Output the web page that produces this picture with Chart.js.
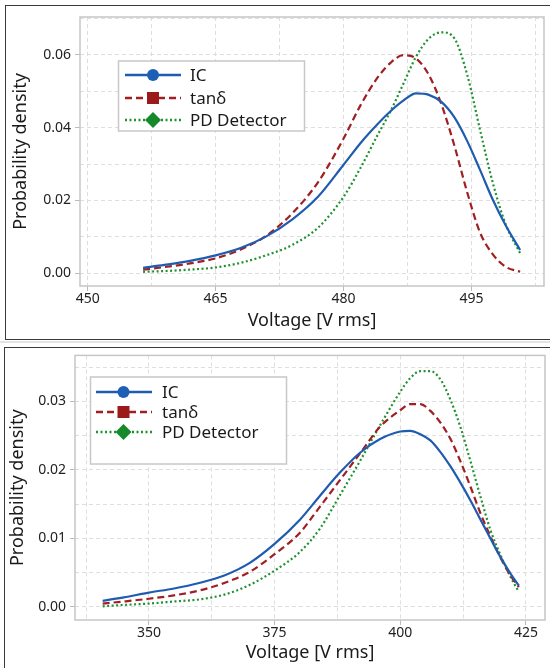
<!DOCTYPE html>
<html>
<head>
<meta charset="utf-8">
<script src="https://cdn.jsdelivr.net/npm/chart.js@4.4.1/dist/chart.umd.min.js"></script>
<style>
  html, body { margin: 0; padding: 0; background: #fff; }
  body { width: 550px; height: 668px; position: relative; overflow: hidden; }
  .panel { position: absolute; border: 1.5px solid #3a3a3a; box-sizing: border-box; }
  #p1 { left: 5px; top: 5px; width: 560px; height: 335px; }
  #p2 { left: 4px; top: 347px; width: 560px; height: 340px; }
  .sep { position: absolute; left: 0; top: 341px; width: 550px; height: 2px; background: #e4e4e4; }
  canvas { position: absolute; }
  #c1 { left: 0; top: 0; }
  #c2 { left: 0; top: 343px; }
</style>
</head>
<body>
<div class="panel" id="p1"></div>
<div class="sep"></div>
<div class="panel" id="p2"></div>
<canvas id="c1" width="550" height="338"></canvas>
<canvas id="c2" width="550" height="325"></canvas>
<script>
const seriesNames = ['IC', 'tanδ', 'PD Detector'];

// top chart
const voltTop = [456.5, 459, 462, 465, 468, 471, 474, 477, 480, 482, 484, 485.5, 487, 488.5, 490, 491.5, 493, 494.5, 496, 497.5, 499, 500.7];
const icTop   = [0.0015, 0.0023, 0.0034, 0.0049, 0.0070, 0.0102, 0.0148, 0.0210, 0.0298, 0.0358, 0.0410, 0.0445, 0.0474, 0.0494, 0.0490, 0.0470, 0.0428, 0.0363, 0.0284, 0.0202, 0.0132, 0.0064];
const tanTop  = [0.0010, 0.0017, 0.0027, 0.0041, 0.0066, 0.0104, 0.0165, 0.0250, 0.0370, 0.0462, 0.0538, 0.0578, 0.0599, 0.0590, 0.0545, 0.0462, 0.0350, 0.0222, 0.0112, 0.0052, 0.0018, 0.0004];
const pdTop   = [0.0004, 0.0006, 0.0010, 0.0016, 0.0029, 0.0050, 0.0078, 0.0125, 0.0210, 0.0290, 0.0380, 0.0445, 0.0520, 0.0595, 0.0645, 0.0662, 0.0645, 0.0545, 0.0394, 0.0248, 0.0135, 0.0055];
const xTicksTop = [450, 465, 480, 495];
const yTicksTop = [0, 0.02, 0.04, 0.06];

// bottom chart
const voltBottom = [340.8, 345, 350, 355, 360, 365, 370, 375, 380, 384, 388, 392, 396, 400, 402, 404, 406, 408, 410, 412, 414, 416, 418, 420, 422, 423.6];
const icBottom   = [0.0009, 0.0014, 0.0021, 0.0027, 0.0035, 0.0046, 0.0064, 0.0092, 0.0127, 0.0162, 0.0196, 0.0225, 0.0245, 0.0256, 0.0257, 0.0252, 0.0243, 0.0226, 0.0205, 0.0181, 0.0155, 0.0127, 0.0099, 0.0072, 0.0048, 0.0031];
const tanBottom  = [0.0005, 0.0008, 0.0012, 0.0017, 0.0024, 0.0035, 0.0051, 0.0077, 0.0108, 0.0146, 0.0185, 0.0224, 0.0263, 0.0287, 0.0296, 0.0296, 0.0286, 0.0269, 0.0245, 0.0212, 0.0175, 0.0136, 0.0102, 0.0071, 0.0045, 0.0029];
const pdBottom   = [0.0001, 0.0003, 0.0005, 0.0008, 0.0011, 0.0018, 0.0032, 0.0053, 0.0080, 0.0114, 0.0163, 0.0213, 0.0265, 0.0314, 0.0334, 0.0344, 0.0344, 0.0332, 0.0302, 0.0262, 0.0212, 0.0160, 0.0111, 0.0075, 0.0043, 0.0022];
const xTicksBottom = [350, 375, 400, 425];
const yTicksBottom = [0, 0.01, 0.02, 0.03];

Chart.defaults.font.family = '"Noto Sans", "Open Sans", sans-serif';
Chart.defaults.color = '#222';

const framePlugin = {
  id: 'frame',
  beforeDatasetsDraw(chart) {
    const { ctx, chartArea: a } = chart;
    ctx.save();
    ctx.strokeStyle = '#c6c6c6';
    ctx.lineWidth = 1.5;
    ctx.strokeRect(a.left, a.top, a.right - a.left, a.bottom - a.top);
    ctx.restore();
  }
};

// legend drawn inside the plot, line + marker like the original
const boxLegend = {
  id: 'boxLegend',
  afterDraw(chart, args, o) {
    const ctx = chart.ctx;
    ctx.save();
    ctx.fillStyle = '#fff';
    ctx.fillRect(o.x, o.y, o.w, o.h);
    ctx.strokeStyle = '#c8c8c8';
    ctx.lineWidth = 1.5;
    ctx.strokeRect(o.x, o.y, o.w, o.h);
    chart.data.datasets.forEach((ds, i) => {
      const y = o.rows[i];
      ctx.strokeStyle = ds.borderColor;
      ctx.lineWidth = 2.5;
      ctx.setLineDash(ds.borderDash || []);
      ctx.beginPath();
      ctx.moveTo(o.lx0, y);
      ctx.lineTo(o.lx1, y);
      ctx.stroke();
      ctx.setLineDash([]);
      ctx.fillStyle = ds.markColor;
      const m = o.mx;
      ctx.beginPath();
      if (ds.mark === 'circle') {
        ctx.arc(m, y, 6, 0, Math.PI * 2);
      } else if (ds.mark === 'rect') {
        ctx.rect(m - 6, y - 6, 12, 12);
      } else {
        ctx.moveTo(m, y - 8); ctx.lineTo(m + 8, y); ctx.lineTo(m, y + 8); ctx.lineTo(m - 8, y);
        ctx.closePath();
      }
      ctx.fill();
      ctx.fillStyle = '#1a1a1a';
      ctx.font = '17px "Noto Sans", "Open Sans", sans-serif';
      ctx.textBaseline = 'middle';
      ctx.fillText(ds.label, o.tx, y + 1);
    });
    ctx.restore();
  }
};

function makeChart(id, volts, series, cfg) {
  const styles = [
    { borderColor: '#1f5cb0', borderDash: [], mark: 'circle', markColor: '#1d5fb5' },
    { borderColor: '#a01f22', borderDash: [7, 4], mark: 'rect', markColor: '#9b1a1a' },
    { borderColor: '#1f9130', borderDash: [2, 2.5], mark: 'diamond', markColor: '#168a2a' }
  ];
  const datasets = series.map((vals, i) => Object.assign({
    label: seriesNames[i],
    data: volts.map((v, j) => ({ x: v, y: vals[j] })),
    borderWidth: 2.2,
    pointRadius: 0,
    fill: false,
    cubicInterpolationMode: 'monotone'
  }, styles[i]));

  const gridDash = [4, 3];
  const near = (list, v) => list.some(t => Math.abs(t - v) < 1e-9);

  return new Chart(document.getElementById(id), {
    type: 'line',
    data: { datasets },
    plugins: [framePlugin, boxLegend],
    options: {
      responsive: false,
      animation: false,
      layout: { padding: cfg.padding },
      plugins: {
        legend: { display: false },
        tooltip: { enabled: false },
        boxLegend: cfg.legend
      },
      scales: {
        x: {
          type: 'linear',
          min: cfg.xMin, max: cfg.xMax,
          afterBuildTicks: (s) => { s.ticks = cfg.xGrid.map(v => ({ value: v })); },
          afterFit: (s) => { s.height = cfg.xHeight; },
          ticks: {
            autoSkip: false, maxRotation: 0, padding: 0,
            font: { size: 14 },
            callback: (v) => near(cfg.xTicks, v) ? String(v) : ''
          },
          grid: {
            color: '#dedede', lineWidth: 1, tickLength: 5,
            tickColor: (c) => c.tick && near(cfg.xTicks, c.tick.value) ? '#bbb' : 'rgba(0,0,0,0)'
          },
          border: { display: false, dash: gridDash },
          title: {
            display: true, text: 'Voltage [V rms]',
            font: { size: 18 }, color: '#1a1a1a',
            padding: { top: 0, bottom: cfg.xTitlePad }
          }
        },
        y: {
          min: cfg.yMin, max: cfg.yMax,
          afterBuildTicks: (s) => { s.ticks = cfg.yGrid.map(v => ({ value: v })); },
          afterFit: (s) => { s.width = cfg.yWidth; },
          ticks: {
            autoSkip: false, padding: 4,
            font: { size: 14 },
            callback: (v) => near(cfg.yTicks, v) ? v.toFixed(2) : ''
          },
          grid: {
            color: '#dedede', lineWidth: 1, tickLength: 5,
            tickColor: (c) => c.tick && near(cfg.yTicks, c.tick.value) ? '#bbb' : 'rgba(0,0,0,0)'
          },
          border: { display: false, dash: gridDash },
          title: {
            display: true, text: 'Probability density',
            font: { size: 18 }, color: '#1a1a1a',
            padding: { top: cfg.yTitlePad, bottom: 0 }
          }
        }
      }
    }
  });
}

const range = (a, b, step) => {
  const out = [];
  for (let v = a; v <= b + 1e-9; v += step) out.push(+v.toFixed(4));
  return out;
};

makeChart('c1', voltTop, [icTop, tanTop, pdTop], {
  xMin: 449.1, xMax: 503.5, yMin: -0.0035, yMax: 0.0704,
  xGrid: range(450, 502.5, 7.5), yGrid: range(0, 0.07, 0.01),
  xTicks: xTicksTop, yTicks: yTicksTop,
  padding: { left: 0, right: 6, top: 17, bottom: 0 },
  xHeight: 52, yWidth: 80, xTitlePad: 6, yTitlePad: 10,
  legend: { x: 118.5, y: 61, w: 186, h: 70, rows: [75, 98, 120], lx0: 125, lx1: 181, mx: 153, tx: 190 }
});

makeChart('c2', voltBottom, [icBottom, tanBottom, pdBottom], {
  xMin: 335.3, xMax: 428.8, yMin: -0.0019, yMax: 0.0367,
  xGrid: range(337.5, 425, 12.5), yGrid: range(0, 0.035, 0.005),
  xTicks: xTicksBottom, yTicks: yTicksBottom,
  padding: { left: 0, right: 5, top: 10, bottom: 0 },
  xHeight: 48, yWidth: 75, xTitlePad: 4, yTitlePad: 7,
  legend: { x: 90.5, y: 34, w: 196, h: 87, rows: [49, 69, 89], lx0: 96, lx1: 152, mx: 123.5, tx: 162 }
});
</script>
</body>
</html>
